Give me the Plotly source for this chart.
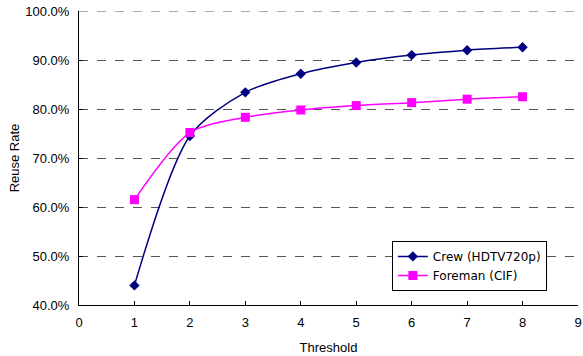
import plotly.graph_objects as go

thresholds = [1, 2, 3, 4, 5, 6, 7, 8]
crew = [44.0, 74.5, 83.4, 87.2, 89.5, 91.0, 92.0, 92.6]
foreman = [61.5, 75.2, 78.3, 79.8, 80.7, 81.3, 82.0, 82.5]
y_ticks = [40, 50, 60, 70, 80, 90, 100]
y_tick_labels = ["40.0%", "50.0%", "60.0%", "70.0%", "80.0%", "90.0%", "100.0%"]
x_ticks = list(range(0, 10))

fig = go.Figure()
fig.add_trace(go.Scatter(
    x=thresholds, y=crew, name="Crew (HDTV720p)", mode="lines+markers",
    line=dict(color="#000080", width=1.5, shape="spline", smoothing=0.8),
    marker=dict(symbol="diamond", size=8, color="#000080"),
))
fig.add_trace(go.Scatter(
    x=thresholds, y=foreman, name="Foreman (CIF)", mode="lines+markers",
    line=dict(color="#FF00FF", width=1.5, shape="spline", smoothing=0.8),
    marker=dict(symbol="square", size=9, color="#FF00FF"),
))

# top gridline at the range edge (plotly skips gridlines at the edge)
fig.add_hline(y=y_ticks[-1], line=dict(color="#555555", width=1, dash="dash"), layer="below")

fig.update_layout(
    width=583, height=356,
    margin=dict(l=79, r=5, t=11, b=51),
    paper_bgcolor="white", plot_bgcolor="white",
    font=dict(family="Liberation Sans, Arial, sans-serif", size=13, color="black"),
    showlegend=True,
    legend=dict(
        x=0.627, y=0.218, xanchor="left", yanchor="top",
        bordercolor="black", borderwidth=1, bgcolor="white",
        font=dict(family="DejaVu Sans, sans-serif", size=12), tracegroupgap=0,
    ),
    xaxis=dict(
        range=[0, 9], tickvals=x_ticks, showgrid=False, zeroline=False,
        showline=True, linecolor="black", linewidth=1, automargin=False,
        ticks="inside", ticklen=4, tickcolor="black", ticklabelstandoff=5,
        title=dict(text="Threshold", standoff=14, font=dict(size=13)),
    ),
    yaxis=dict(
        range=[40, 100], tickvals=y_ticks, ticktext=y_tick_labels,
        showgrid=True, gridcolor="#555555", griddash="dash", gridwidth=1,
        zeroline=False, showline=True, linecolor="black", linewidth=1, automargin=False,
        ticks="inside", ticklen=4, tickcolor="black", ticklabelstandoff=6,
        title=dict(text="Reuse Rate", standoff=2, font=dict(size=13)),
    ),
)

fig.write_html("out.html", config={"displayModeBar": False},
               post_script="document.body.style.margin='0';")
